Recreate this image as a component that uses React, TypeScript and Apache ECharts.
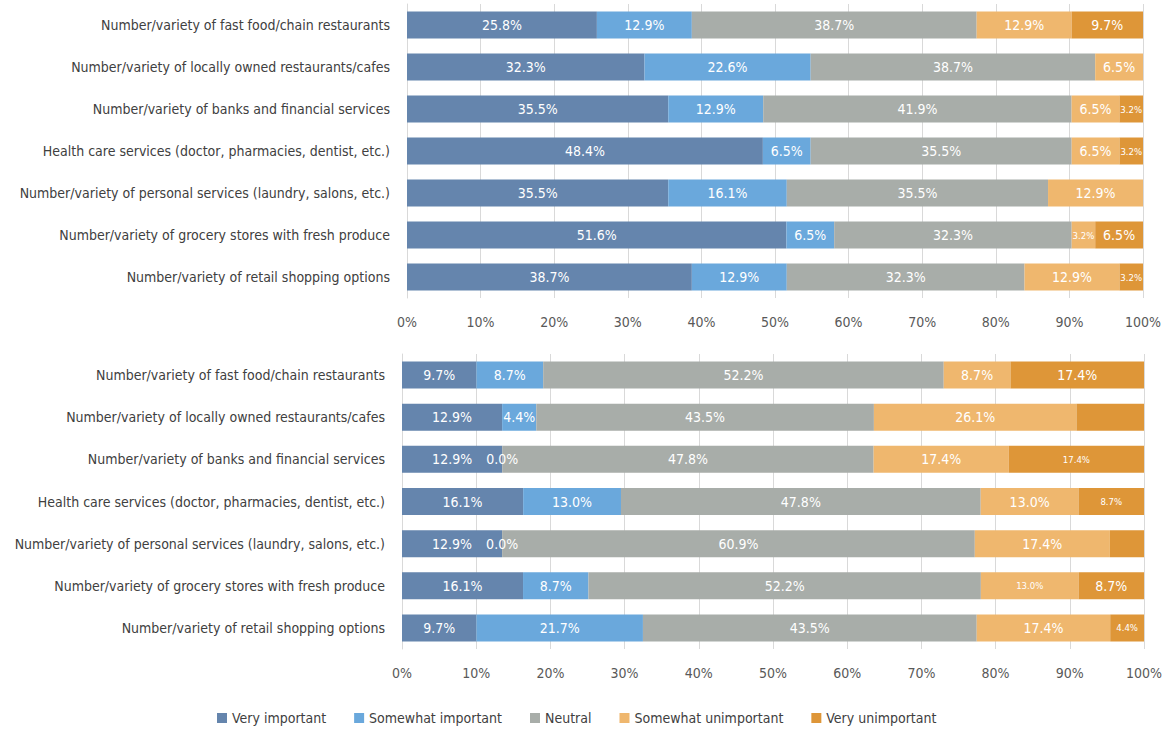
import React, { useEffect, useRef } from "react";
import * as echarts from "echarts";

const categories = [
  "Number/variety of fast food/chain restaurants",
  "Number/variety of locally owned restaurants/cafes",
  "Number/variety of banks and financial services",
  "Health care services (doctor, pharmacies, dentist, etc.)",
  "Number/variety of personal services (laundry, salons, etc.)",
  "Number/variety of grocery stores with fresh produce",
  "Number/variety of retail shopping options",
];

const seriesNames = [
  "Very important",
  "Somewhat important",
  "Neutral",
  "Somewhat unimportant",
  "Very unimportant",
];

const colors = ["#6585AD", "#6AA8DC", "#A8ADA9", "#EFB76E", "#DE9638"];

// Top chart
const topVeryImportant = [25.8, 32.3, 35.5, 48.4, 35.5, 51.6, 38.7];
const topSomewhatImportant = [12.9, 22.6, 12.9, 6.5, 16.1, 6.5, 12.9];
const topNeutral = [38.7, 38.7, 41.9, 35.5, 35.5, 32.3, 32.3];
const topSomewhatUnimportant = [12.9, 6.5, 6.5, 6.5, 12.9, 3.2, 12.9];
const topVeryUnimportant = [9.7, 0, 3.2, 3.2, 0, 6.5, 3.2];

// Bottom chart
const botVeryImportant = [9.7, 12.9, 12.9, 16.1, 12.9, 16.1, 9.7];
const botSomewhatImportant = [8.7, 4.4, 0.0, 13.0, 0.0, 8.7, 21.7];
const botNeutral = [52.2, 43.5, 47.8, 47.8, 60.9, 52.2, 43.5];
const botSomewhatUnimportant = [8.7, 26.1, 17.4, 13.0, 17.4, 13.0, 17.4];
const botVeryUnimportant = [17.4, 8.7, 17.4, 8.7, 4.4, 8.7, 4.4];

// [seriesIndex, rowIndex]
const topHiddenLabels = [[4, 1], [4, 4]];
const topSmallLabels = [[4, 2], [4, 3], [3, 5], [4, 6]];
const botHiddenLabels = [[4, 1], [4, 4]];
const botSmallLabels = [[4, 2], [4, 3], [3, 5], [4, 6]];

const FONT = "'DejaVu Sans Condensed', 'Liberation Sans Narrow', sans-serif";

function has(list: number[][], s: number, r: number) {
  return list.some((p) => p[0] === s && p[1] === r);
}

function buildSeries(
  sets: number[][],
  stack: string,
  axisIndex: number,
  hidden: number[][],
  small: number[][]
) {
  const sums = categories.map((_, r) => sets.reduce((a, s) => a + s[r], 0));
  return sets.map((vals, s) => ({
    name: seriesNames[s],
    type: "bar",
    stack,
    xAxisIndex: axisIndex,
    yAxisIndex: axisIndex,
    barWidth: 27,
    itemStyle: { color: colors[s] },
    emphasis: { disabled: true },
    data: vals.map((v, r) => ({
      value: (v / sums[r]) * 100,
      raw: v,
      label: {
        show: !has(hidden, s, r),
        fontSize: has(small, s, r) ? 9.5 : 14,
      },
    })),
    label: {
      show: true,
      position: "inside",
      color: "#FFFFFF",
      fontFamily: FONT,
      formatter: (p: any) => p.data.raw.toFixed(1) + "%",
    },
  }));
}

export default function App() {
  const ref = useRef<HTMLDivElement>(null);

  useEffect(() => {
    if (!ref.current) return;
    const chart = echarts.init(ref.current, null, { renderer: "svg" });

    const xAxisBase = (gridIndex: number) => ({
      type: "value",
      gridIndex,
      min: 0,
      max: 100,
      interval: 10,
      axisLine: { show: false },
      axisTick: { show: false },
      splitLine: { show: true, lineStyle: { color: "#D9D9D9", width: 1 } },
      axisLabel: {
        formatter: "{value}%",
        color: "#595959",
        fontSize: 14,
        fontFamily: FONT,
        margin: 17,
      },
    });
    const yAxisBase = (gridIndex: number) => ({
      type: "category",
      gridIndex,
      inverse: true,
      data: categories,
      axisLine: { show: true, lineStyle: { color: "#D9D9D9" } },
      axisTick: { show: false },
      axisLabel: {
        color: "#404040",
        fontSize: 14,
        fontFamily: FONT,
        margin: 17,
      },
    });

    const option: any = {
      animation: false,
      textStyle: { fontFamily: FONT },
      grid: [
        { left: 407, right: 21, top: 4, height: 294, outerBoundsMode: "none", containLabel: false },
        { left: 402, right: 20, top: 354, height: 295, outerBoundsMode: "none", containLabel: false },
      ],
      xAxis: [xAxisBase(0), xAxisBase(1)],
      yAxis: [yAxisBase(0), yAxisBase(1)],
      legend: {
        data: seriesNames,
        top: 706,
        left: 212,
        itemWidth: 10,
        itemHeight: 10,
        itemGap: 28,
        icon: "rect",
        textStyle: { color: "#404040", fontSize: 14, fontFamily: FONT },
      },
      series: [
        ...buildSeries(
          [topVeryImportant, topSomewhatImportant, topNeutral, topSomewhatUnimportant, topVeryUnimportant],
          "top",
          0,
          topHiddenLabels,
          topSmallLabels
        ),
        ...buildSeries(
          [botVeryImportant, botSomewhatImportant, botNeutral, botSomewhatUnimportant, botVeryUnimportant],
          "bottom",
          1,
          botHiddenLabels,
          botSmallLabels
        ),
      ],
    };
    chart.setOption(option);
    return () => chart.dispose();
  }, []);

  return (
    <div
      ref={ref}
      style={{ position: "fixed", left: 0, top: 0, width: 1164, height: 729, background: "#fff" }}
    />
  );
}
